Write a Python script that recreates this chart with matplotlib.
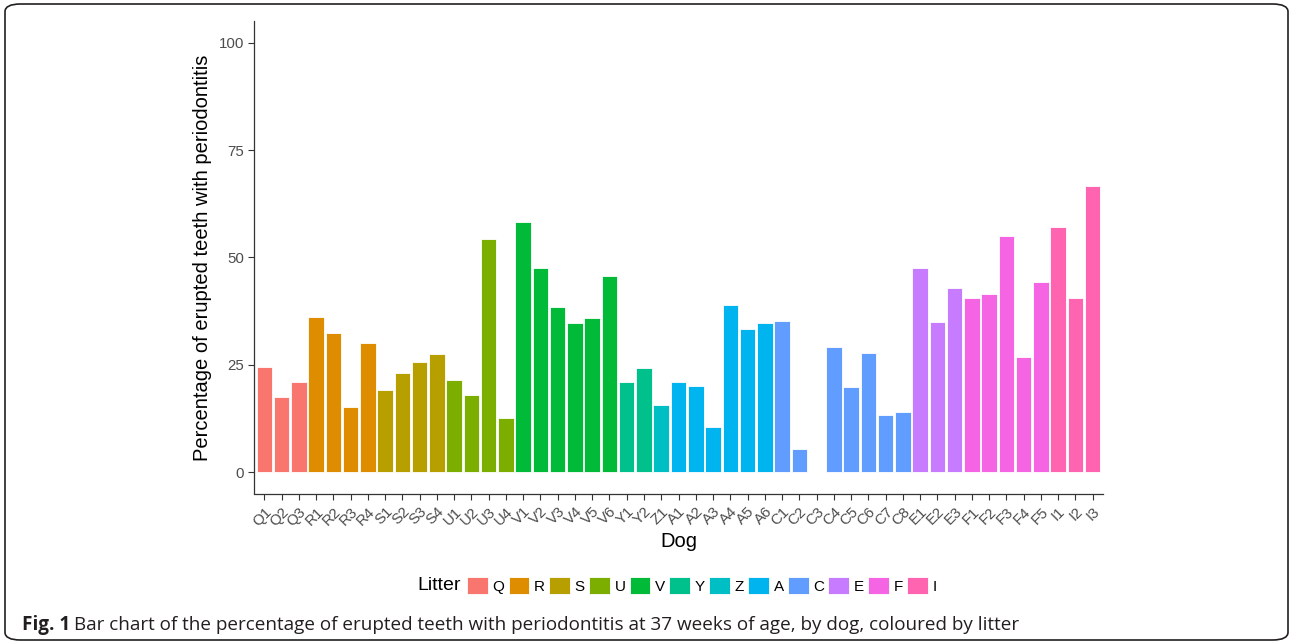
import matplotlib
matplotlib.use("Agg")
import matplotlib.pyplot as plt
from matplotlib.patches import Patch, FancyBboxPatch
from matplotlib import font_manager as fm
import numpy as np

plt.rcParams['font.family'] = ['Liberation Sans', 'DejaVu Sans']

# data
dogs = ['Q1', 'Q2', 'Q3', 'R1', 'R2', 'R3', 'R4', 'S1', 'S2', 'S3', 'S4',
        'U1', 'U2', 'U3', 'U4', 'V1', 'V2', 'V3', 'V4', 'V5', 'V6', 'Y1', 'Y2',
        'Z1', 'A1', 'A2', 'A3', 'A4', 'A5', 'A6', 'C1', 'C2', 'C3', 'C4', 'C5',
        'C6', 'C7', 'C8', 'E1', 'E2', 'E3', 'F1', 'F2', 'F3', 'F4', 'F5',
        'I1', 'I2', 'I3']
pct = [24.4, 17.5, 21.1, 36.1, 32.4, 15.1, 30.0, 19.2, 23.1, 25.7, 27.5,
       21.4, 17.9, 54.2, 12.5, 58.2, 47.5, 38.4, 34.8, 36.0, 45.8, 21.0, 24.2,
       15.7, 21.0, 20.0, 10.5, 39.0, 33.3, 34.8, 35.2, 5.4, 0.0, 29.1, 19.9,
       27.7, 13.2, 13.9, 47.5, 35.0, 42.8, 40.6, 41.5, 54.9, 26.8, 44.3,
       57.0, 40.6, 66.6]
litters = ['Q', 'R', 'S', 'U', 'V', 'Y', 'Z', 'A', 'C', 'E', 'F', 'I']
litter_colors = ['#F8766D', '#DE8C00', '#B79F00', '#7CAE00', '#00BA38', '#00C08B',
                 '#00BFC4', '#00B4F0', '#619CFF', '#C77CFF', '#F564E3', '#FF64B0']

W, H = 1292, 644
cmap = dict(zip(litters, litter_colors))
bar_cols = [cmap[d[0]] for d in dogs]

fig = plt.figure(figsize=(W / 100, H / 100), dpi=100)
ax = fig.add_axes([254 / W, 1 - 493.5 / H, 849 / W, 472 / H])

x = np.arange(1, len(dogs) + 1)
ax.bar(x, pct, width=0.9, color=bar_cols, edgecolor='white', linewidth=0.6)

ax.set_xlim(0.4, len(dogs) + 0.6)
ax.set_ylim(-5, 105)
ax.set_yticks([0, 25, 50, 75, 100])
ax.set_xticks(x)
ax.set_xticklabels(dogs, rotation=45, ha='right', va='top', rotation_mode='anchor')
ax.tick_params(axis='both', colors='#333333', labelcolor='#4D4D4D',
               length=4, width=0.8)
ax.tick_params(axis='x', labelsize=10.8, pad=4)
ax.tick_params(axis='y', labelsize=10.8, pad=3)
for s in ['top', 'right']:
    ax.spines[s].set_visible(False)
for s in ['left', 'bottom']:
    ax.spines[s].set_color('#333333')
    ax.spines[s].set_linewidth(0.9)

ax.set_xlabel('Dog', fontsize=14.5, labelpad=2)
ax.set_ylabel('Percentage of erupted teeth with periodontitis', fontsize=14.5, labelpad=5)

# legend along the bottom
handles = [Patch(facecolor=c, edgecolor='white', linewidth=0.6) for c in litter_colors]
fig.legend(handles, litters, loc='center left', bbox_to_anchor=(467 / W, 1 - 585.5 / H),
           ncol=len(litters), frameon=False, fontsize=11, handlelength=1.37,
           handleheight=1.37, handletextpad=0.3, columnspacing=0.27, borderaxespad=0,
           borderpad=0)
fig.text(417.5 / W, 1 - 586 / H, 'Litter', fontsize=14, ha='left', va='center')

# caption, sized to span the same width as in the reference
cap_font = 'Open Sans'
try:
    fm.findfont('Liberation Sans Narrow', fallback_to_default=False)
    cap_font = 'Liberation Sans Narrow'
except ValueError:
    pass
cap_rest = 'Bar chart of the percentage of erupted teeth with periodontitis at 37 weeks of age, by dog, coloured by litter'
fs = 12
cap_y = 1 - 625 / H
t1 = fig.text(22 / W, cap_y, 'Fig. 1', fontsize=fs, fontweight='bold',
              family=cap_font, ha='left', va='center', color='#231F20')
fig.canvas.draw()
r = fig.canvas.get_renderer()
t2 = fig.text(t1.get_window_extent(r).x1 / W + 4 / W, cap_y, cap_rest, fontsize=fs,
              family=cap_font, ha='left', va='center', color='#231F20')
span = t2.get_window_extent(r).x1 - 22
fs = fs * 995 / span
t1.set_fontsize(fs)
t2.set_fontsize(fs)
fig.canvas.draw()
t2.set_x(t1.get_window_extent(r).x1 / W + 4 / W)

# rounded frame around the figure
frame = FancyBboxPatch((5 / W, 4 / H), 1283 / W, 636 / H,
                       boxstyle='round,pad=0,rounding_size=0.012',
                       transform=fig.transFigure, facecolor='none',
                       edgecolor='#231F20', linewidth=1.2)
fig.patches.append(frame)

fig.savefig('out.png', dpi=100)
